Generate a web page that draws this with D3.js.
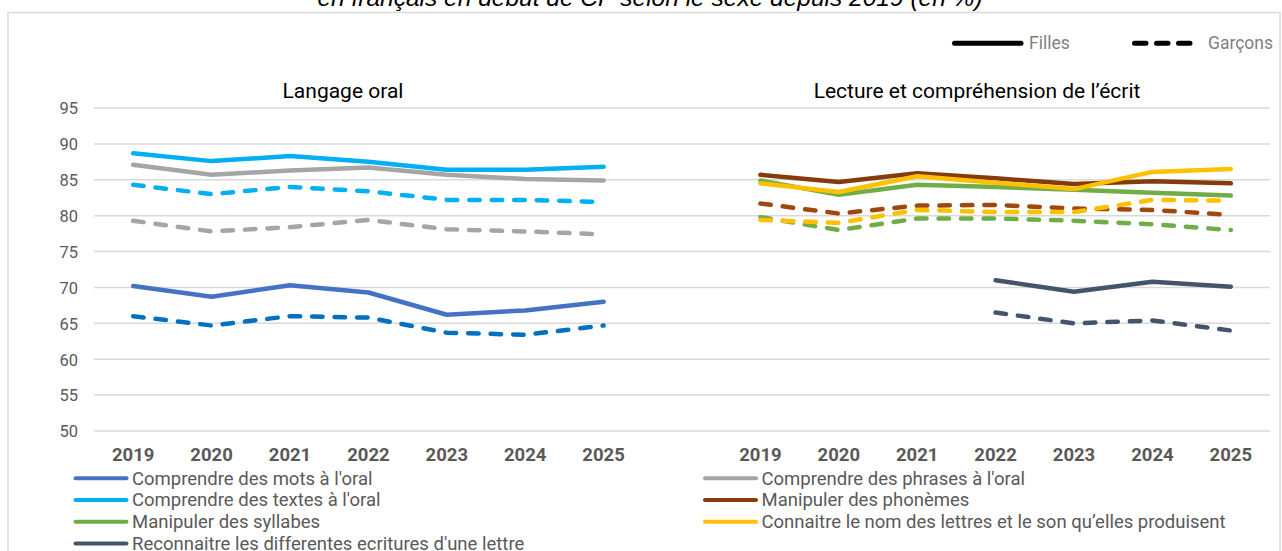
<!DOCTYPE html>
<html>
<head>
<meta charset="utf-8">
<script src="https://cdn.jsdelivr.net/npm/d3@7"></script>
<style>
  html, body { margin: 0; padding: 0; background: #fff; }
  svg { display: block; }
</style>
</head>
<body>
<svg id="chart" width="1282" height="551"></svg>
<script>
// ---------- DATA ----------
const titleText = "en français en début de CP selon le sexe depuis 2019 (en %)";
const panelTitles = ["Langage oral", "Lecture et compréhension de l’écrit"];
const years = ["2019", "2020", "2021", "2022", "2023", "2024", "2025"];
const yTicks = [50, 55, 60, 65, 70, 75, 80, 85, 90, 95];
const genderLabels = ["Filles", "Garçons"];

// Langage oral
const motsFilles      = [70.2, 68.7, 70.3, 69.3, 66.2, 66.8, 68.0];
const motsGarcons     = [66.0, 64.7, 66.0, 65.8, 63.7, 63.4, 64.7];
const phrasesFilles   = [87.1, 85.7, 86.3, 86.7, 85.7, 85.1, 84.9];
const phrasesGarcons  = [79.3, 77.8, 78.4, 79.4, 78.1, 77.8, 77.4];
const textesFilles    = [88.7, 87.6, 88.3, 87.5, 86.4, 86.4, 86.8];
const textesGarcons   = [84.3, 83.0, 84.0, 83.4, 82.2, 82.2, 81.9];
// Lecture et compréhension de l'écrit
const phonemesFilles  = [85.7, 84.7, 85.9, 85.2, 84.4, 84.8, 84.5];
const phonemesGarcons = [81.7, 80.3, 81.4, 81.5, 81.0, 80.8, 80.1];
const syllabesFilles  = [84.9, 82.9, 84.3, 84.0, 83.6, 83.2, 82.8];
const syllabesGarcons = [79.8, 78.0, 79.6, 79.6, 79.3, 78.8, 78.0];
const lettresFilles   = [84.5, 83.3, 85.5, 84.6, 83.7, 86.1, 86.5];
const lettresGarcons  = [79.4, 79.0, 80.8, 80.5, 80.5, 82.2, 82.1];
const reconFilles     = [null, null, null, 71.0, 69.4, 70.8, 70.1];
const reconGarcons    = [null, null, null, 66.5, 65.0, 65.4, 64.0];

const seriesNames = [
  "Comprendre des mots à l'oral",
  "Comprendre des phrases à l'oral",
  "Comprendre des textes à l'oral",
  "Manipuler des phonèmes",
  "Manipuler des syllabes",
  "Connaitre le nom des lettres et le son qu’elles produisent",
  "Reconnaitre les differentes ecritures d'une lettre"
];
const seriesColors = ["#4472C4", "#A5A5A5", "#00B0F0", "#843C0C", "#70AD47", "#FFC000", "#44546A"];
const dashedColors = ["#0070C0", "#A5A5A5", "#00B0F0", "#9E480E", "#70AD47", "#FFC000", "#44546A"];
const seriesPanel  = [0, 0, 0, 1, 1, 1, 1];
const filles  = [motsFilles, phrasesFilles, textesFilles, phonemesFilles, syllabesFilles, lettresFilles, reconFilles];
const garcons = [motsGarcons, phrasesGarcons, textesGarcons, phonemesGarcons, syllabesGarcons, lettresGarcons, reconGarcons];

// ---------- LAYOUT ----------
const svg = d3.select("#chart");
const font = "Roboto, 'Noto Sans', sans-serif";

// category slots: 7 years, one gap, 7 years
const slots = d3.range(15);
const slotLabel = i => (i < 7 ? years[i] : i > 7 ? years[i - 8] : "");
const x = d3.scaleBand().domain(slots).range([94, 1270]).paddingInner(0).paddingOuter(0);
const xc = i => x(i) + x.bandwidth() / 2;
const y = d3.scaleLinear().domain([50, 95]).range([431, 108]);

// frame
svg.append("rect").attr("x", 8).attr("y", 12.5).attr("width", 1272).attr("height", 600)
  .attr("fill", "#fff").attr("stroke", "#D9D9D9").attr("stroke-width", 1.5);

// title (partially cut at top)
svg.append("text").attr("x", 650).attr("y", 5.5).attr("text-anchor", "middle")
  .attr("font-family", "'Liberation Sans', Arial, sans-serif").attr("font-style", "italic")
  .attr("font-size", 24.5).attr("fill", "#000").text(titleText);

// gridlines + y axis
const yAxis = d3.axisLeft(y).tickValues(yTicks).tickSize(0).tickPadding(0);
const gy = svg.append("g").attr("transform", "translate(78,0)").call(yAxis);
gy.select(".domain").remove();
gy.selectAll("text").attr("font-family", font).attr("font-size", 16.5).attr("fill", "#595959").attr("dy", "0.35em");

svg.append("g").selectAll("line").data(yTicks).join("line")
  .attr("x1", 94).attr("x2", 1270).attr("y1", d => y(d)).attr("y2", d => y(d))
  .attr("stroke", "#D9D9D9").attr("stroke-width", 1.5);

// x axis
const xAxis = d3.axisBottom(x).tickFormat(slotLabel).tickSize(0).tickPadding(0);
const gx = svg.append("g").attr("transform", "translate(0,448)").call(xAxis);
gx.select(".domain").remove();
gx.selectAll("text").attr("font-family", font).attr("font-size", 18.5).attr("font-weight", "bold")
  .attr("fill", "#595959").attr("dy", "0.72em");

// panel titles
const panelCenters = [343, 977];
svg.append("g").selectAll("text").data(panelTitles).join("text")
  .attr("x", (d, i) => panelCenters[i]).attr("y", 98).attr("text-anchor", "middle")
  .attr("font-family", font).attr("font-size", 21).attr("fill", "#000").text(d => d);

// lines
const line = d3.line().defined(d => d.v != null).x(d => xc(d.i)).y(d => y(d.v));
const toPts = (arr, panel) => arr.map((v, k) => ({ i: (panel === 0 ? k : k + 8), v }));
const gLines = svg.append("g");
seriesNames.forEach((name, s) => {
  gLines.append("path").datum(toPts(garcons[s], seriesPanel[s])).attr("d", line)
    .attr("fill", "none").attr("stroke", dashedColors[s]).attr("stroke-width", 4.5)
    .attr("stroke-linecap", "round").attr("stroke-linejoin", "round")
    .attr("stroke-dasharray", "10.5,12");
  gLines.append("path").datum(toPts(filles[s], seriesPanel[s])).attr("d", line)
    .attr("fill", "none").attr("stroke", seriesColors[s]).attr("stroke-width", 4.5)
    .attr("stroke-linecap", "round").attr("stroke-linejoin", "round");
});

// top legend (Filles / Garçons)
const topLeg = svg.append("g");
const topItems = [
  { label: genderLabels[0], x1: 954.5, x2: 1021, tx: 1029, dash: null },
  { label: genderLabels[1], x1: 1134.5, x2: 1191, tx: 1208, dash: "11.5,10.5" }
];
topItems.forEach(it => {
  topLeg.append("line").attr("x1", it.x1).attr("x2", it.x2).attr("y1", 43.3).attr("y2", 43.3)
    .attr("stroke", "#000").attr("stroke-width", 5).attr("stroke-linecap", "round")
    .attr("stroke-dasharray", it.dash);
  topLeg.append("text").attr("x", it.tx).attr("y", 48.5).attr("font-family", font)
    .attr("font-size", 17.5).attr("fill", "#7F7F7F").text(it.label);
});

// bottom legend (2 columns, row-major)
const legX = [73.5, 703];
const legY0 = 478.3, legDy = 21.7;
const legG = svg.append("g");
seriesNames.forEach((name, s) => {
  const col = s % 2, row = Math.floor(s / 2);
  const lx = legX[col], ly = legY0 + row * legDy;
  legG.append("line").attr("x1", lx + 2).attr("x2", lx + 53).attr("y1", ly).attr("y2", ly)
    .attr("stroke", seriesColors[s]).attr("stroke-width", 4).attr("stroke-linecap", "round");
  legG.append("text").attr("x", lx + 58.5).attr("y", ly).attr("dy", "0.35em")
    .attr("font-family", font).attr("font-size", 18.5).attr("fill", "#595959").text(name);
});
</script>
</body>
</html>
